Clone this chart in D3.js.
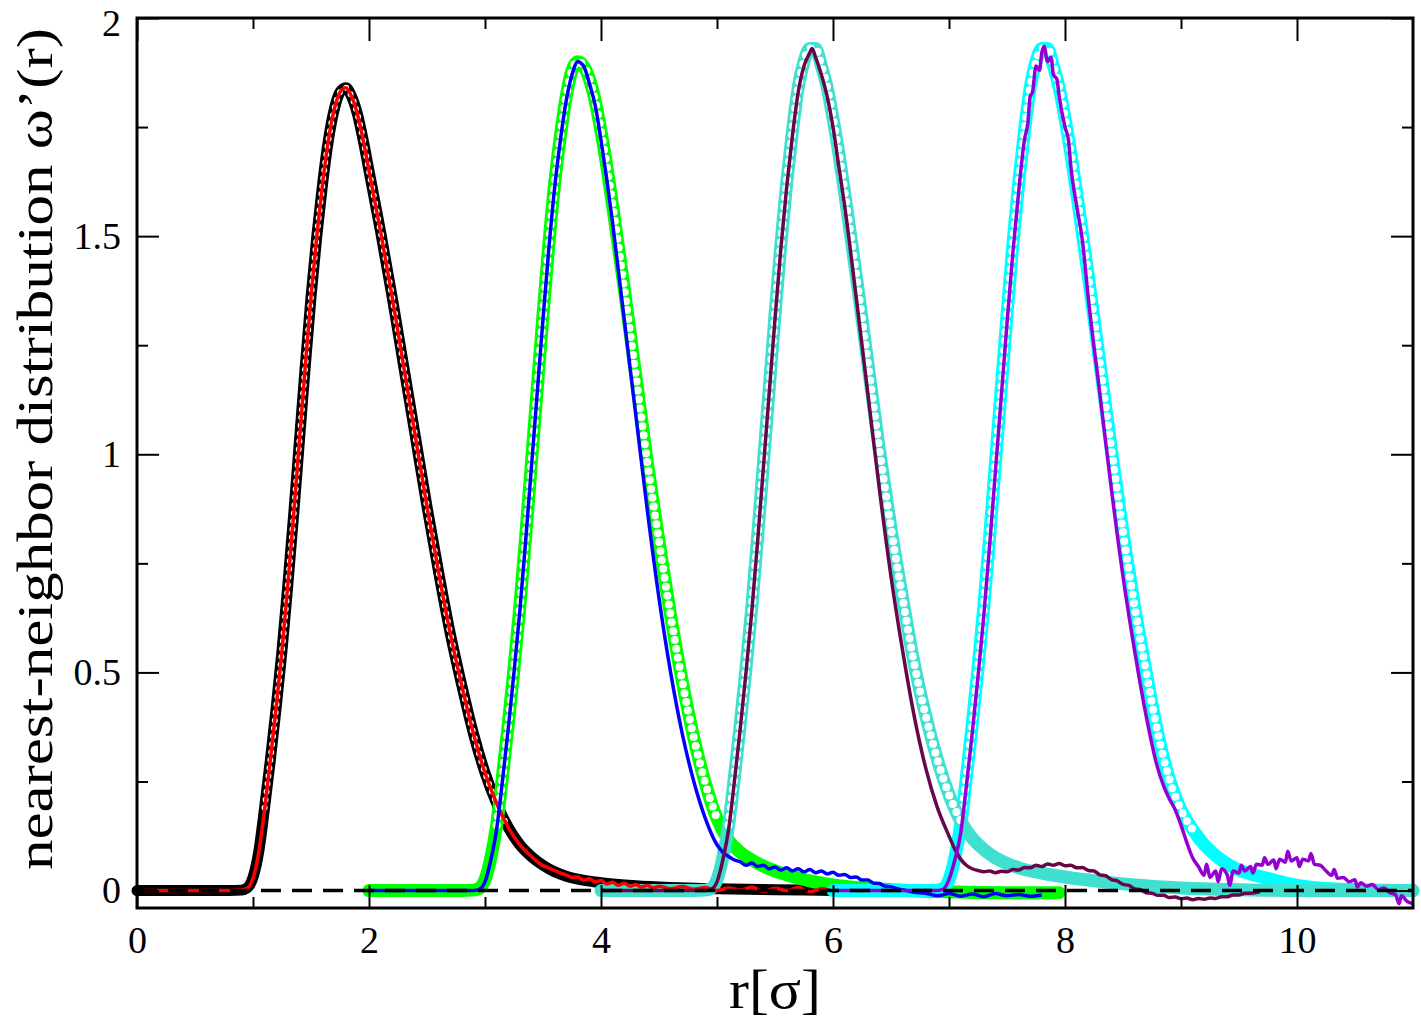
<!DOCTYPE html>
<html>
<head>
<meta charset="utf-8">
<script src="https://cdn.jsdelivr.net/npm/d3@7"></script>
<style>
  html, body { margin: 0; padding: 0; background: #fff; }
  svg { display: block; }
  text { font-family: "Liberation Serif", "Times New Roman", Times, "Nimbus Roman", "DejaVu Serif Condensed", serif; fill: #000; }
</style>
</head>
<body>
<svg id="chart" width="1421" height="1021"></svg>
<script>
// ----------------------
// data, [r, w'(r)]
// ----------------------
const xMajor = [0, 2, 4, 6, 8, 10];
const xMinor = [1, 3, 5, 7, 9];
const yMajor = [0, 0.5, 1, 1.5, 2];
const yMinor = [0.25, 0.75, 1.25, 1.75];

// black circles
const blackCircles = [[0,0],[0.3,0],[0.6,0],[0.8,0],[0.9,0.001],[0.95,0.006],[1.0,0.03],[1.05,0.09],[1.1,0.19],[1.15,0.30],[1.2,0.42],[1.25,0.55],[1.3,0.70],[1.35,0.86],[1.4,1.03],[1.45,1.20],[1.5,1.36],[1.55,1.50],[1.6,1.62],[1.65,1.72],[1.7,1.79],[1.75,1.83],[1.8,1.84],[1.85,1.82],[1.9,1.78],[1.95,1.72],[2.0,1.65],[2.05,1.58],[2.1,1.51],[2.2,1.36],[2.3,1.20],[2.4,1.04],[2.5,0.88],[2.6,0.73],[2.7,0.59],[2.8,0.47],[2.9,0.36],[3.0,0.27],[3.1,0.20],[3.2,0.145],[3.3,0.105],[3.4,0.078],[3.5,0.058],[3.6,0.043],[3.7,0.033],[3.8,0.026],[4.0,0.018],[4.3,0.011],[4.6,0.007],[5.0,0.004],[5.5,0.002],[6.0,0.0]];

// red line
const redLine = [[0.05,0],[0.4,0],[0.8,0],[0.9,0.001],[0.95,0.005],[1.0,0.028],[1.05,0.088],[1.1,0.185],[1.15,0.30],[1.2,0.42],[1.25,0.55],[1.3,0.70],[1.35,0.86],[1.4,1.03],[1.45,1.20],[1.5,1.36],[1.55,1.50],[1.6,1.62],[1.65,1.72],[1.7,1.79],[1.75,1.83],[1.8,1.84],[1.85,1.82],[1.9,1.78],[1.95,1.72],[2.0,1.65],[2.05,1.58],[2.1,1.51],[2.2,1.36],[2.3,1.20],[2.4,1.04],[2.5,0.88],[2.6,0.73],[2.7,0.59],[2.8,0.47],[2.9,0.36],[3.0,0.27],[3.1,0.20],[3.2,0.145],[3.3,0.105],[3.4,0.078],[3.5,0.057],[3.55,0.052],[3.6,0.046],[3.65,0.040],[3.7,0.036],[3.75,0.030],[3.8,0.031],[3.85,0.024],[3.9,0.027],[3.95,0.020],[4.0,0.023],[4.05,0.015],[4.1,0.019],[4.15,0.012],[4.2,0.017],[4.25,0.010],[4.3,0.014],[4.35,0.008],[4.4,0.012],[4.45,0.006],[4.5,0.010],[4.6,0.004],[4.7,0.009],[4.8,0.003],[4.9,0.007],[5.0,0.0],[5.1,0.006],[5.2,0.001],[5.3,0.008],[5.4,-0.002],[5.5,0.005],[5.6,0.0],[5.7,0.007],[5.8,-0.003],[5.9,0.004],[5.97,0.001]];

// green circles
const greenCircles = [[2.0,0],[2.4,0],[2.8,0],[2.9,0.001],[2.95,0.005],[3.0,0.025],[3.05,0.075],[3.1,0.15],[3.15,0.26],[3.2,0.38],[3.25,0.51],[3.3,0.65],[3.35,0.81],[3.4,0.98],[3.45,1.15],[3.5,1.32],[3.55,1.48],[3.6,1.62],[3.65,1.73],[3.7,1.82],[3.75,1.88],[3.8,1.90],[3.85,1.89],[3.9,1.86],[3.95,1.81],[4.0,1.74],[4.05,1.66],[4.1,1.57],[4.2,1.38],[4.3,1.18],[4.4,0.98],[4.5,0.80],[4.6,0.63],[4.7,0.48],[4.8,0.35],[4.9,0.245],[5.0,0.165],[5.1,0.115],[5.2,0.088],[5.3,0.070],[5.4,0.056],[5.5,0.045],[5.6,0.036],[5.7,0.029],[5.8,0.022],[6.0,0.013],[6.2,0.007],[6.5,0.002],[7.0,-0.003],[7.5,-0.005],[7.95,-0.005]];

// blue line
const blueLine = [[2.0,0],[2.5,0],[2.9,0],[2.95,0.003],[3.0,0.02],[3.05,0.07],[3.1,0.14],[3.15,0.25],[3.2,0.37],[3.25,0.50],[3.3,0.64],[3.35,0.80],[3.4,0.97],[3.45,1.14],[3.5,1.31],[3.55,1.47],[3.6,1.61],[3.65,1.72],[3.7,1.81],[3.75,1.87],[3.8,1.90],[3.85,1.89],[3.9,1.85],[3.95,1.80],[4.0,1.72],[4.05,1.63],[4.1,1.53],[4.2,1.31],[4.3,1.09],[4.4,0.87],[4.5,0.67],[4.6,0.50],[4.7,0.36],[4.8,0.25],[4.9,0.165],[5.0,0.105],[5.05,0.088],[5.1,0.078],[5.15,0.070],[5.2,0.066],[5.25,0.058],[5.3,0.063],[5.35,0.055],[5.4,0.058],[5.45,0.050],[5.5,0.054],[5.55,0.047],[5.6,0.052],[5.65,0.045],[5.7,0.050],[5.75,0.043],[5.8,0.048],[5.85,0.041],[5.9,0.045],[5.95,0.038],[6.0,0.042],[6.05,0.035],[6.1,0.037],[6.15,0.030],[6.2,0.031],[6.25,0.024],[6.3,0.024],[6.35,0.017],[6.4,0.016],[6.45,0.010],[6.5,0.009],[6.55,0.004],[6.6,0.002],[6.7,-0.004],[6.8,-0.006],[6.9,-0.012],[7.0,-0.007],[7.1,-0.013],[7.2,-0.008],[7.3,-0.014],[7.4,-0.007],[7.5,-0.012],[7.6,-0.009],[7.7,-0.013],[7.8,-0.010]];

// turquoise circles
const turquoiseCircles = [[4.0,0],[4.4,0],[4.8,0],[4.9,0.001],[4.95,0.005],[5.0,0.025],[5.05,0.075],[5.1,0.15],[5.15,0.26],[5.2,0.38],[5.25,0.51],[5.3,0.65],[5.35,0.81],[5.4,0.98],[5.45,1.15],[5.5,1.32],[5.55,1.48],[5.6,1.62],[5.65,1.74],[5.7,1.84],[5.75,1.90],[5.8,1.93],[5.85,1.93],[5.9,1.89],[5.95,1.84],[6.0,1.77],[6.05,1.69],[6.1,1.60],[6.2,1.41],[6.3,1.21],[6.4,1.01],[6.5,0.83],[6.6,0.67],[6.7,0.52],[6.8,0.40],[6.9,0.30],[7.0,0.22],[7.1,0.16],[7.2,0.12],[7.3,0.094],[7.4,0.075],[7.5,0.062],[7.6,0.052],[7.8,0.040],[8.0,0.031],[8.3,0.021],[8.6,0.013],[9.0,0.006],[9.5,0.002],[10.0,0],[10.5,0],[11.0,0]];

// maroon line
const maroonLine = [[4.0,0],[4.5,0],[4.9,0],[4.95,0.003],[5.0,0.02],[5.05,0.07],[5.1,0.14],[5.15,0.25],[5.2,0.37],[5.25,0.50],[5.3,0.64],[5.35,0.80],[5.4,0.97],[5.45,1.14],[5.5,1.31],[5.55,1.47],[5.6,1.61],[5.65,1.73],[5.7,1.83],[5.75,1.89],[5.8,1.92],[5.82,1.93],[5.85,1.91],[5.9,1.87],[5.95,1.82],[6.0,1.75],[6.05,1.66],[6.1,1.57],[6.2,1.36],[6.3,1.14],[6.4,0.92],[6.5,0.72],[6.6,0.55],[6.7,0.40],[6.8,0.28],[6.9,0.19],[7.0,0.125],[7.05,0.095],[7.1,0.072],[7.15,0.058],[7.2,0.050],[7.25,0.046],[7.3,0.043],[7.35,0.045],[7.4,0.041],[7.45,0.044],[7.5,0.043],[7.55,0.048],[7.6,0.047],[7.65,0.053],[7.7,0.052],[7.75,0.058],[7.8,0.055],[7.85,0.061],[7.9,0.058],[7.95,0.062],[8.0,0.057],[8.05,0.058],[8.1,0.052],[8.15,0.053],[8.2,0.046],[8.25,0.045],[8.3,0.036],[8.35,0.034],[8.4,0.025],[8.45,0.022],[8.5,0.014],[8.55,0.012],[8.6,0.004],[8.65,0.002],[8.7,-0.005],[8.75,-0.006],[8.8,-0.011],[8.85,-0.011],[8.9,-0.016],[8.95,-0.015],[9.0,-0.019],[9.05,-0.017],[9.1,-0.021],[9.15,-0.018],[9.2,-0.020],[9.25,-0.017],[9.3,-0.018],[9.35,-0.014],[9.4,-0.014],[9.45,-0.010],[9.5,-0.010],[9.55,-0.006],[9.6,-0.006],[9.68,-0.003]];

// cyan circles
const cyanCircles = [[6.0,0],[6.4,0],[6.8,0],[6.9,0.001],[6.95,0.005],[7.0,0.025],[7.05,0.075],[7.1,0.15],[7.15,0.26],[7.2,0.38],[7.25,0.51],[7.3,0.65],[7.35,0.81],[7.4,0.98],[7.45,1.15],[7.5,1.32],[7.55,1.48],[7.6,1.62],[7.65,1.74],[7.7,1.84],[7.75,1.90],[7.8,1.93],[7.85,1.93],[7.9,1.89],[7.95,1.84],[8.0,1.77],[8.05,1.69],[8.1,1.60],[8.2,1.41],[8.3,1.21],[8.4,1.01],[8.5,0.82],[8.6,0.65],[8.7,0.50],[8.8,0.36],[8.9,0.255],[9.0,0.185],[9.1,0.14],[9.2,0.105],[9.3,0.08],[9.4,0.061],[9.5,0.047],[9.6,0.038],[9.7,0.031],[9.8,0.024],[10.0,0.012],[10.3,0.004],[10.6,0.001],[11.0,0]];

// violet line
const violetLine = [[6.0,0],[6.5,0],[6.9,0],[6.95,0.003],[7.0,0.025],[7.05,0.07],[7.1,0.13],[7.15,0.24],[7.2,0.36],[7.25,0.49],[7.3,0.63],[7.35,0.79],[7.4,0.96],[7.45,1.13],[7.5,1.30],[7.55,1.46],[7.6,1.60],[7.65,1.72],[7.68,1.76],[7.7,1.82],[7.72,1.83],[7.75,1.89],[7.78,1.88],[7.8,1.92],[7.82,1.935],[7.85,1.90],[7.88,1.91],[7.9,1.87],[7.93,1.86],[7.95,1.82],[8.0,1.75],[8.03,1.72],[8.05,1.66],[8.1,1.57],[8.15,1.49],[8.2,1.36],[8.3,1.14],[8.4,0.92],[8.5,0.72],[8.6,0.55],[8.7,0.40],[8.8,0.28],[8.85,0.24],[8.9,0.21],[8.95,0.185],[9.0,0.15],[9.05,0.11],[9.1,0.075],[9.15,0.055],[9.2,0.035],[9.22,0.060],[9.25,0.030],[9.3,0.045],[9.32,0.020],[9.35,0.050],[9.4,0.035],[9.42,0.012],[9.45,0.045],[9.5,0.040],[9.52,0.058],[9.55,0.045],[9.6,0.055],[9.62,0.040],[9.65,0.060],[9.7,0.058],[9.72,0.075],[9.75,0.060],[9.8,0.070],[9.82,0.050],[9.85,0.072],[9.9,0.065],[9.92,0.090],[9.95,0.068],[10.0,0.075],[10.02,0.055],[10.05,0.072],[10.1,0.068],[10.12,0.085],[10.15,0.060],[10.2,0.058],[10.25,0.045],[10.3,0.035],[10.32,0.048],[10.35,0.028],[10.4,0.030],[10.45,0.020],[10.5,0.025],[10.52,0.008],[10.55,0.018],[10.6,0.010],[10.65,0.014],[10.7,0.002],[10.75,0.006],[10.8,-0.005],[10.85,-0.010],[10.88,-0.030],[10.9,-0.012],[10.95,-0.025],[11.0,-0.030]];

// zero reference
const zeroLine = [[0, 0], [11, 0]];

// ----------------------
// layout
// ----------------------
const svg = d3.select("#chart");
const width = +svg.attr("width");
const height = +svg.attr("height");
const margin = { top: 18, right: 8, bottom: 113, left: 137 };
const innerW = width - margin.left - margin.right;
const innerH = height - margin.top - margin.bottom;
const serif = "'Liberation Serif', 'Times New Roman', Times, 'Nimbus Roman', 'DejaVu Serif Condensed', serif";

const g = svg.append("g").attr("transform", `translate(${margin.left},${margin.top})`);

const x = d3.scaleLinear().domain([0, 11]).range([0, innerW]);
const y = d3.scaleLinear().domain([-0.04, 2]).range([innerH, 0]);

const line = d3.line().x(d => x(d[0])).y(d => y(d[1])).curve(d3.curveMonotoneX);
const steepLine = d3.line()
    .defined(d => d[1] > 0.12)
    .x(d => x(d[0])).y(d => y(d[1])).curve(d3.curveMonotoneX);

// open-circle symbol series: coloured band, white centres punched in where the curve is steep
function drawSymbols(data, color, outer, inner, gap) {
    g.append("path").datum(data)
        .attr("d", line)
        .attr("fill", "none")
        .attr("stroke", color)
        .attr("stroke-width", outer)
        .attr("stroke-linecap", "round")
        .attr("stroke-linejoin", "round");
    g.append("path").datum(data)
        .attr("d", steepLine)
        .attr("fill", "none")
        .attr("stroke", "#fff")
        .attr("stroke-width", inner)
        .attr("stroke-dasharray", `0 ${gap}`)
        .attr("stroke-linecap", "round");
}

function drawLine(data, color, w) {
    g.append("path").datum(data)
        .attr("d", line)
        .attr("fill", "none")
        .attr("stroke", color)
        .attr("stroke-width", w)
        .attr("stroke-linejoin", "round");
}

drawSymbols(blackCircles, "#000000", 11, 6, 8);
drawSymbols(greenCircles, "#00ff00", 13, 8, 9);
drawSymbols(cyanCircles, "#00ffff", 13, 8, 9);
drawSymbols(turquoiseCircles, "#40e0d0", 13, 8, 9);

drawLine(redLine, "#ff0000", 3.5);
drawLine(blueLine, "#0000ff", 3.5);
drawLine(maroonLine, "#670748", 3.5);
drawLine(violetLine, "#9400d3", 3.5);

g.append("path").datum(zeroLine)
    .attr("d", d3.line().x(d => x(d[0])).y(d => y(d[1])))
    .attr("fill", "none")
    .attr("stroke", "#000")
    .attr("stroke-width", 3.5)
    .attr("stroke-dasharray", "20 11");

// ----------------------
// axes (ticks inside, mirrored)
// ----------------------
function styleAxis(sel) {
    sel.select(".domain").remove();
    sel.selectAll(".tick line").attr("stroke", "#000").attr("stroke-width", 2);
    sel.selectAll(".tick text").attr("font-size", 38).attr("fill", "#000")
        .attr("font-family", serif);
}
const fmt = d => String(d);

g.append("g").attr("transform", `translate(0,${innerH})`)
    .call(d3.axisBottom(x).tickValues(xMajor).tickSizeInner(-23).tickSizeOuter(0).tickPadding(18).tickFormat(fmt))
    .call(styleAxis);
g.append("g").attr("transform", `translate(0,${innerH})`)
    .call(d3.axisBottom(x).tickValues(xMinor).tickSizeInner(-11).tickSizeOuter(0).tickFormat(""))
    .call(styleAxis);
g.append("g")
    .call(d3.axisTop(x).tickValues(xMajor).tickSizeInner(-23).tickSizeOuter(0).tickFormat(""))
    .call(styleAxis);
g.append("g")
    .call(d3.axisTop(x).tickValues(xMinor).tickSizeInner(-11).tickSizeOuter(0).tickFormat(""))
    .call(styleAxis);

const yAxisG = g.append("g")
    .call(d3.axisLeft(y).tickValues(yMajor).tickSizeInner(-22).tickSizeOuter(0).tickPadding(16).tickFormat(fmt))
    .call(styleAxis);
// keep the top label inside the page
yAxisG.selectAll(".tick text").filter(d => d === 2).attr("dy", "0.45em");

g.append("g")
    .call(d3.axisLeft(y).tickValues(yMinor).tickSizeInner(-11).tickSizeOuter(0).tickFormat(""))
    .call(styleAxis);
g.append("g").attr("transform", `translate(${innerW},0)`)
    .call(d3.axisRight(y).tickValues(yMajor).tickSizeInner(-22).tickSizeOuter(0).tickFormat(""))
    .call(styleAxis);
g.append("g").attr("transform", `translate(${innerW},0)`)
    .call(d3.axisRight(y).tickValues(yMinor).tickSizeInner(-11).tickSizeOuter(0).tickFormat(""))
    .call(styleAxis);

// frame
g.append("rect")
    .attr("x", 0).attr("y", 0)
    .attr("width", innerW).attr("height", innerH)
    .attr("fill", "none")
    .attr("stroke", "#000")
    .attr("stroke-width", 3);

// ----------------------
// axis titles
// ----------------------
svg.append("text")
    .attr("x", margin.left + innerW / 2)
    .attr("y", 1008)
    .attr("text-anchor", "middle")
    .attr("font-size", 54)
    .attr("font-family", serif)
    .attr("textLength", 92)
    .attr("lengthAdjust", "spacingAndGlyphs")
    .text("r[σ]");

svg.append("text")
    .attr("transform", "translate(52,449) rotate(-90)")
    .attr("text-anchor", "middle")
    .attr("font-size", 50)
    .attr("font-family", serif)
    .attr("textLength", 842)
    .attr("lengthAdjust", "spacingAndGlyphs")
    .text("nearest-neighbor distribution ω’(r)");
</script>
</body>
</html>
